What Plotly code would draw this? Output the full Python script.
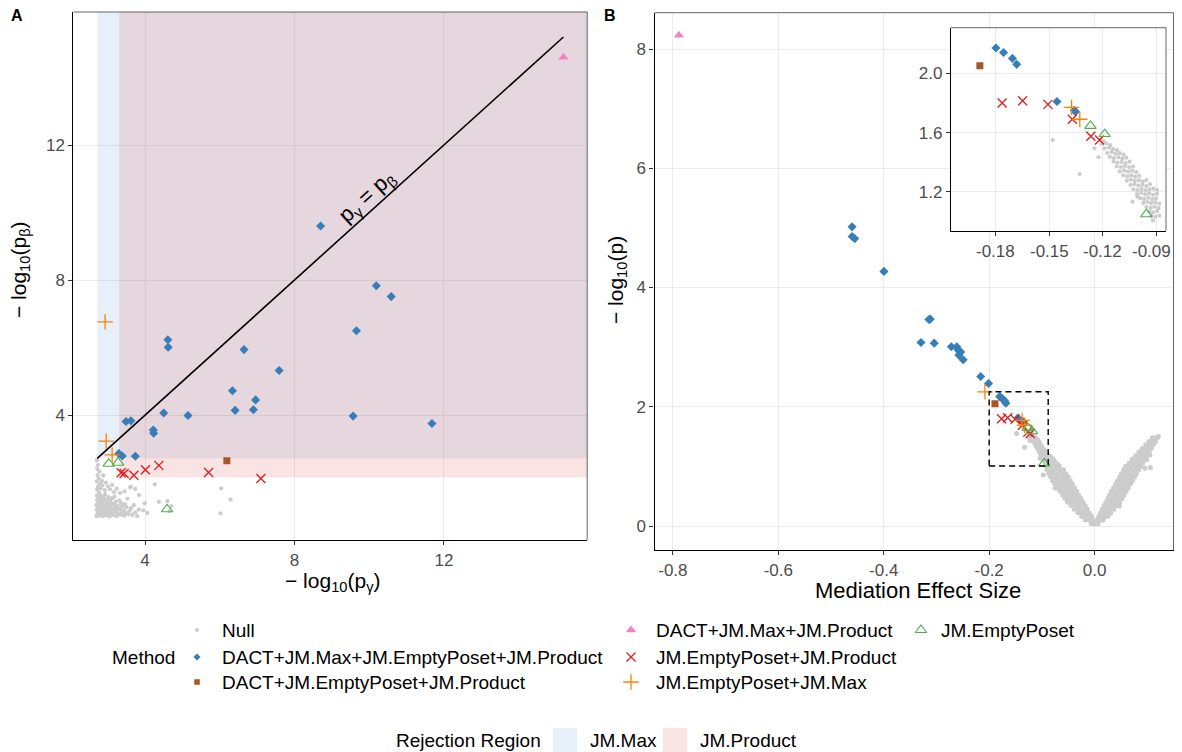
import plotly.graph_objects as go

# The page shows the figure inside an 8px body margin; the figure is sized so the
# page never overflows sideways, and positions below are given in window pixels.
VIEW_W, VIEW_H = 1182, 752
OFF = 8
W, H = VIEW_W - 2 * OFF, VIEW_H - OFF


def px(x):
    return (x - OFF) / W


def py(y):
    return 1 - (y - OFF) / H


# ------------------------------------------------------------------ data
# Panel A : -log10(p_gamma) vs -log10(p_beta)
a_null = [
    (2.71, 2.66), (2.74, 2.52), (2.72, 2.41), (2.78, 2.33), (2.73, 2.22), (2.76, 2.12),
    (2.71, 2.03), (2.79, 1.96), (2.74, 1.88), (2.72, 1.79), (2.77, 1.71), (2.81, 1.83),
    (2.84, 2.05), (2.88, 2.21), (2.86, 1.92), (2.92, 1.78), (2.95, 2.00), (3.01, 1.89),
    (3.06, 1.80), (3.12, 1.93), (3.17, 1.72), (3.24, 1.82), (3.33, 1.69), (3.45, 1.74),
    (3.60, 1.86), (3.74, 1.81), (3.84, 1.63), (3.99, 1.39), (3.95, 1.18), (4.06, 1.10),
    (4.26, 1.95), (4.37, 1.43), (4.60, 1.45), (4.70, 1.30), (4.66, 1.16), (6.04, 1.83),
    (6.29, 1.50), (6.02, 1.09),
    (2.70, 1.00), (2.72, 1.06), (2.75, 1.13), (2.71, 1.19), (2.74, 1.26), (2.70, 1.33),
    (2.76, 1.40), (2.72, 1.47), (2.75, 1.55), (2.71, 1.62),
    (2.79, 1.02), (2.81, 1.09), (2.78, 1.17), (2.83, 1.23), (2.80, 1.31), (2.84, 1.38),
    (2.79, 1.46), (2.83, 1.53), (2.80, 1.63),
    (2.87, 1.00), (2.89, 1.07), (2.86, 1.14), (2.91, 1.21), (2.88, 1.29), (2.92, 1.36),
    (2.87, 1.44), (2.91, 1.51), (2.88, 1.58), (2.93, 1.66),
    (2.96, 1.03), (2.98, 1.11), (2.95, 1.18), (3.00, 1.26), (2.97, 1.33), (3.01, 1.41),
    (2.96, 1.49), (3.02, 1.57),
    (3.05, 1.00), (3.07, 1.08), (3.04, 1.15), (3.09, 1.23), (3.06, 1.30), (3.11, 1.38),
    (3.07, 1.46), (3.12, 1.54),
    (3.15, 1.04), (3.17, 1.12), (3.14, 1.19), (3.19, 1.27), (3.16, 1.35), (3.21, 1.43),
    (3.18, 1.58),
    (3.24, 1.01), (3.27, 1.09), (3.23, 1.16), (3.29, 1.24), (3.26, 1.32), (3.31, 1.47),
    (3.34, 1.05), (3.37, 1.13), (3.33, 1.21), (3.39, 1.30), (3.36, 1.39),
    (3.44, 1.02), (3.47, 1.10), (3.43, 1.18), (3.50, 1.27), (3.46, 1.36),
    (3.55, 1.06), (3.58, 1.15), (3.53, 1.52), (3.62, 1.24), (3.66, 1.04), (3.70, 1.33),
    (3.74, 1.12), (3.79, 1.01), (3.83, 1.20), (3.62, 1.87),
]
a_all_x = [8.70, 10.19, 10.59, 9.66, 4.61, 4.62, 6.65, 7.59, 6.34, 6.96, 6.41, 6.90,
           4.50, 5.15, 9.57, 11.68, 3.49, 3.62, 4.22, 4.23, 3.30, 3.39, 3.74]
a_all_y = [9.60, 7.83, 7.51, 6.50, 6.23, 6.01, 5.94, 5.32, 4.72, 4.45, 4.14, 4.16,
           4.06, 3.99, 3.97, 3.75, 3.81, 3.83, 3.56, 3.46, 2.86, 2.79, 2.78]
a_dep_x = [6.19]
a_dep_y = [2.65]
a_dmp_x = [15.20]
a_dmp_y = [14.60]
a_epp_x = [3.36, 3.44, 3.70, 4.01, 4.37, 5.70, 7.10]
a_epp_y = [2.29, 2.27, 2.22, 2.38, 2.51, 2.30, 2.12]
a_epm_x = [2.93, 2.96, 3.12]
a_epm_y = [6.76, 3.23, 2.82]
a_ep_x = [3.03, 3.28, 4.59]
a_ep_y = [2.56, 2.59, 1.21]

# rejection thresholds (on the -log10 scale)
jm_max_thr = 2.72
jm_prod_thr_x = 3.31
jm_prod_thr_y = 2.15

# Panel B : mediation effect size vs -log10(p)
b_null_left = [
    (-0.0065, 0.040), (-0.0035, 0.047), (-0.0010, 0.033),
    (-0.0175, 0.100), (-0.0120, 0.106), (-0.0075, 0.096), (-0.0030, 0.102),
    (-0.0245, 0.160), (-0.0180, 0.166), (-0.0115, 0.155), (-0.0060, 0.162),
    (-0.0315, 0.221), (-0.0240, 0.214), (-0.0170, 0.225), (-0.0100, 0.218),
    (-0.0385, 0.279), (-0.0300, 0.285), (-0.0220, 0.274), (-0.0140, 0.281),
    (-0.0445, 0.342), (-0.0360, 0.335), (-0.0270, 0.346), (-0.0180, 0.338),
    (-0.0515, 0.398), (-0.0430, 0.405), (-0.0350, 0.394), (-0.0280, 0.402), (-0.0220, 0.397),
    (-0.0560, 0.462), (-0.0480, 0.455), (-0.0400, 0.466), (-0.0330, 0.458), (-0.0260, 0.463),
    (-0.0605, 0.518), (-0.0520, 0.525), (-0.0440, 0.514), (-0.0370, 0.522), (-0.0300, 0.517),
    (-0.0655, 0.582), (-0.0570, 0.575), (-0.0490, 0.586), (-0.0410, 0.578), (-0.0340, 0.583),
    (-0.0705, 0.638), (-0.0620, 0.645), (-0.0540, 0.634), (-0.0460, 0.642), (-0.0380, 0.637),
    (-0.0755, 0.702), (-0.0670, 0.695), (-0.0590, 0.706), (-0.0500, 0.698), (-0.0420, 0.703),
    (-0.0800, 0.758), (-0.0720, 0.765), (-0.0630, 0.754), (-0.0540, 0.762), (-0.0460, 0.757),
    (-0.0835, 0.822), (-0.0750, 0.815), (-0.0670, 0.826), (-0.0580, 0.818), (-0.0500, 0.823),
    (-0.0870, 0.878), (-0.0790, 0.885), (-0.0710, 0.874), (-0.0620, 0.882), (-0.0545, 0.877),
    (-0.0905, 0.942), (-0.0820, 0.935), (-0.0740, 0.946), (-0.0660, 0.938), (-0.0590, 0.943),
]
b_null_left_upper = [
    (-0.0918, 1.008), (-0.0895, 1.002), (-0.0872, 1.010), (-0.0850, 1.001), (-0.0827, 1.007),
    (-0.0805, 1.000), (-0.0782, 1.009), (-0.0760, 1.003), (-0.0737, 1.006), (-0.0715, 1.001),
    (-0.0692, 1.008), (-0.0670, 1.002),
    (-0.0928, 1.038), (-0.0905, 1.032), (-0.0882, 1.040), (-0.0860, 1.031), (-0.0837, 1.037),
    (-0.0815, 1.030), (-0.0792, 1.039), (-0.0770, 1.033), (-0.0748, 1.036), (-0.0725, 1.031),
    (-0.0703, 1.038),
    (-0.0940, 1.068), (-0.0918, 1.062), (-0.0895, 1.070), (-0.0872, 1.061), (-0.0850, 1.067),
    (-0.0827, 1.060), (-0.0805, 1.069), (-0.0782, 1.063), (-0.0760, 1.066), (-0.0738, 1.061),
    (-0.0955, 1.098), (-0.0932, 1.092), (-0.0910, 1.100), (-0.0887, 1.091), (-0.0865, 1.097),
    (-0.0842, 1.090), (-0.0820, 1.099), (-0.0797, 1.093), (-0.0775, 1.098),
    (-0.0972, 1.126), (-0.0950, 1.132), (-0.0928, 1.124), (-0.0905, 1.130), (-0.0883, 1.121),
    (-0.0860, 1.128), (-0.0838, 1.122), (-0.0815, 1.130), (-0.0792, 1.125),
    (-0.0990, 1.158), (-0.0968, 1.152), (-0.0945, 1.160), (-0.0922, 1.151), (-0.0900, 1.157),
    (-0.0878, 1.149), (-0.0856, 1.155), (-0.0834, 1.160),
    (-0.1008, 1.186), (-0.0985, 1.193), (-0.0962, 1.184), (-0.0940, 1.190), (-0.0918, 1.181),
    (-0.0896, 1.188), (-0.0874, 1.183),
    (-0.1028, 1.218), (-0.1005, 1.212), (-0.0982, 1.220), (-0.0960, 1.211), (-0.0938, 1.217),
    (-0.0916, 1.222), (-0.0895, 1.214),
    (-0.1045, 1.246), (-0.1022, 1.252), (-0.1000, 1.243), (-0.0978, 1.249), (-0.0956, 1.240),
    (-0.0935, 1.251),
    (-0.1065, 1.276), (-0.1042, 1.282), (-0.1020, 1.273), (-0.0998, 1.279), (-0.0975, 1.270),
    (-0.0955, 1.280),
    (-0.1085, 1.312), (-0.1062, 1.305), (-0.1040, 1.311), (-0.1018, 1.303), (-0.0995, 1.309),
    (-0.1105, 1.338), (-0.1080, 1.345), (-0.1058, 1.336), (-0.1035, 1.342), (-0.1012, 1.333),
    (-0.1122, 1.372), (-0.1098, 1.368), (-0.1075, 1.375), (-0.1052, 1.366), (-0.1030, 1.371),
    (-0.1140, 1.405), (-0.1118, 1.398), (-0.1095, 1.402), (-0.1072, 1.395), (-0.1050, 1.404),
    (-0.1160, 1.436), (-0.1138, 1.428), (-0.1112, 1.433), (-0.1090, 1.425), (-0.1068, 1.431),
    (-0.1175, 1.462), (-0.1150, 1.468), (-0.1128, 1.457), (-0.1105, 1.461), (-0.1083, 1.452),
    (-0.1190, 1.494), (-0.1165, 1.499), (-0.1142, 1.488), (-0.1120, 1.482),
    (-0.1205, 1.522), (-0.1180, 1.528), (-0.1158, 1.515),
    (-0.1215, 1.552), (-0.1195, 1.541),
]
b_null_right = [
    (0.0020, 0.040), (0.0045, 0.046), (0.0065, 0.035),
    (0.0050, 0.100), (0.0095, 0.106), (0.0135, 0.096), (0.0160, 0.102),
    (0.0080, 0.160), (0.0140, 0.166), (0.0200, 0.155), (0.0255, 0.162),
    (0.0110, 0.221), (0.0180, 0.214), (0.0250, 0.225), (0.0310, 0.218),
    (0.0145, 0.279), (0.0220, 0.285), (0.0300, 0.274), (0.0365, 0.281),
    (0.0180, 0.342), (0.0260, 0.335), (0.0340, 0.346), (0.0420, 0.338),
    (0.0215, 0.398), (0.0290, 0.405), (0.0370, 0.394), (0.0445, 0.402), (0.0475, 0.397),
    (0.0250, 0.462), (0.0330, 0.455), (0.0410, 0.466), (0.0480, 0.458), (0.0520, 0.463),
    (0.0285, 0.518), (0.0360, 0.525), (0.0440, 0.514), (0.0510, 0.522), (0.0560, 0.517),
    (0.0320, 0.582), (0.0400, 0.575), (0.0480, 0.586), (0.0550, 0.578), (0.0600, 0.583),
    (0.0360, 0.638), (0.0440, 0.645), (0.0520, 0.634), (0.0590, 0.642), (0.0640, 0.637),
    (0.0400, 0.702), (0.0480, 0.695), (0.0560, 0.706), (0.0630, 0.698), (0.0680, 0.703),
    (0.0435, 0.758), (0.0510, 0.765), (0.0590, 0.754), (0.0660, 0.762), (0.0720, 0.757),
    (0.0475, 0.822), (0.0550, 0.815), (0.0630, 0.826), (0.0700, 0.818), (0.0755, 0.823),
    (0.0510, 0.878), (0.0590, 0.885), (0.0670, 0.874), (0.0740, 0.882), (0.0795, 0.877),
    (0.0550, 0.942), (0.0630, 0.935), (0.0710, 0.946), (0.0780, 0.938), (0.0835, 0.943),
    (0.0590, 1.002), (0.0670, 0.995), (0.0750, 1.006), (0.0820, 0.998), (0.0875, 1.003),
    (0.0655, 1.058), (0.0730, 1.065), (0.0800, 1.054), (0.0860, 1.062), (0.0915, 1.057),
    (0.0715, 1.122), (0.0790, 1.115), (0.0860, 1.126), (0.0905, 1.118), (0.0955, 1.123),
    (0.0780, 1.178), (0.0850, 1.185), (0.0920, 1.174), (0.0995, 1.182),
    (0.0840, 1.242), (0.0910, 1.235), (0.0980, 1.246), (0.1035, 1.238),
    (0.0905, 1.298), (0.0970, 1.305), (0.1035, 1.294), (0.1075, 1.302),
    (0.0970, 1.362), (0.1035, 1.355), (0.1115, 1.366),
    (0.1030, 1.418), (0.1090, 1.425), (0.1155, 1.414),
    (0.1095, 1.482), (0.1145, 1.475), (0.1195, 1.486),
]
b_null_outliers = [
    (0.121, 1.50), (0.111, 1.45), (0.105, 1.19), (0.099, 1.11), (0.106, 0.98),
    (0.0956, 0.97), (0.047, 0.335),
    (-0.1481, 1.550), (-0.1330, 1.321), (-0.1224, 1.434), (-0.1247, 1.494),
    (-0.1033, 1.134), (-0.1005, 1.168), (-0.0973, 0.855), (-0.0750, 0.632),
]
b_all_x = [-0.460, -0.460, -0.455, -0.3997, -0.3144, -0.3117, -0.3293, -0.3042, -0.2717,
           -0.2615, -0.2588, -0.2540, -0.2575, -0.2493, -0.2161, -0.2012, -0.1800, -0.1757,
           -0.1707, -0.1683, -0.1457, -0.1360, -0.1353]
b_all_y = [5.017, 4.855, 4.820, 4.270, 3.464, 3.470, 3.078, 3.067, 3.006,
           3.006, 2.950, 2.920, 2.866, 2.788, 2.508, 2.391, 2.170, 2.140,
           2.100, 2.060, 1.810, 1.750, 1.740]
b_dep_x = [-0.189]
b_dep_y = [2.05]
b_dmp_x = [-0.7886]
b_dmp_y = [8.23]
b_epp_x = [-0.1765, -0.1650, -0.1508, -0.1371, -0.1267, -0.1218]
b_epp_y = [1.800, 1.815, 1.790, 1.690, 1.575, 1.550]
b_epm_x = [-0.208, -0.1375, -0.1329]
b_epm_y = [2.251, 1.770, 1.690]
b_ep_x = [-0.1269, -0.1189, -0.0955]
b_ep_y = [1.645, 1.590, 1.050]

# zoom window shown in the inset
zoom_x = [-0.200, -0.088]
zoom_y = [1.006, 2.251]

# inset tick labels
inset_xticks = [-0.18, -0.15, -0.12, -0.09]
inset_xlabels = ["-0.18", "-0.15", "-0.12", "-0.09"]

# ------------------------------------------------------------------ styles
M_NULL = "Null"
M_ALL = "DACT+JM.Max+JM.EmptyPoset+JM.Product"
M_DEP = "DACT+JM.EmptyPoset+JM.Product"
M_DMP = "DACT+JM.Max+JM.Product"
M_EPP = "JM.EmptyPoset+JM.Product"
M_EPM = "JM.EmptyPoset+JM.Max"
M_EP = "JM.EmptyPoset"

STYLE = {
    M_NULL: dict(symbol="circle", size=4.6, color="#CCCCCC"),
    M_ALL: dict(symbol="diamond", size=7, color="#377EB8"),
    M_DEP: dict(symbol="square", size=7, color="#A65628"),
    M_DMP: dict(symbol="triangle-up", size=9, color="#F781BF"),
    M_EPP: dict(symbol="x-thin", size=9, color="#E41A1C", lw=1.3),
    M_EPM: dict(symbol="cross-thin", size=11, color="#FF7F00", lw=1.3),
    M_EP: dict(symbol="triangle-up-open", size=10, color="#4DAF4A", lw=1.1),
}


def marker_for(name, size=None):
    s = STYLE[name]
    m = dict(symbol=s["symbol"], size=size or s["size"], color=s["color"])
    if "lw" in s:
        m["line"] = dict(width=s["lw"], color=s["color"])
    else:
        m["line"] = dict(width=0)
    return m


fig = go.Figure()


def add_pts(xs, ys, name, xa, ya, size=None):
    fig.add_trace(go.Scatter(x=list(xs), y=list(ys), mode="markers", name=name,
                             marker=marker_for(name, size), xaxis=xa, yaxis=ya,
                             showlegend=False, hoverinfo="skip"))


def in_zoom(xs, ys):
    keep = [(x, y) for x, y in zip(xs, ys)
            if zoom_x[0] <= x <= zoom_x[1] and zoom_y[0] <= y <= zoom_y[1]]
    if not keep:
        return [], []
    kx, ky = zip(*keep)
    return list(kx), list(ky)


# ---- panel A
ax_, ay_ = zip(*a_null)
add_pts(ax_, ay_, M_NULL, "x", "y", 4.3)
line_end = max(a_dmp_x + a_all_x)
fig.add_trace(go.Scatter(x=[jm_max_thr, line_end], y=[jm_max_thr, line_end], mode="lines",
                         line=dict(color="black", width=1.6), xaxis="x", yaxis="y",
                         showlegend=False, hoverinfo="skip"))
add_pts(a_all_x, a_all_y, M_ALL, "x", "y")
add_pts(a_dep_x, a_dep_y, M_DEP, "x", "y")
add_pts(a_dmp_x, a_dmp_y, M_DMP, "x", "y")
add_pts(a_epp_x, a_epp_y, M_EPP, "x", "y")
add_pts(a_epm_x, a_epm_y, M_EPM, "x", "y")
add_pts(a_ep_x, a_ep_y, M_EP, "x", "y")

# ---- panel B main and inset (inset shows only the points inside the zoom window)
b_null = b_null_left + b_null_left_upper + b_null_right + b_null_outliers
bx_, by_ = zip(*b_null)
b_series = [
    (b_all_x, b_all_y, M_ALL), (b_dep_x, b_dep_y, M_DEP), (b_dmp_x, b_dmp_y, M_DMP),
    (b_epp_x, b_epp_y, M_EPP), (b_epm_x, b_epm_y, M_EPM), (b_ep_x, b_ep_y, M_EP),
]
add_pts(bx_, by_, M_NULL, "x2", "y2", 5)
for sx, sy, nm in b_series:
    add_pts(sx, sy, nm, "x2", "y2")
zx_, zy_ = in_zoom(bx_, by_)
add_pts(zx_, zy_, M_NULL, "x4", "y4", 4.2)
for sx, sy, nm in b_series:
    zx_, zy_ = in_zoom(sx, sy)
    if zx_:
        add_pts(zx_, zy_, nm, "x4", "y4")

# ---- legend keys (drawn in a pixel-like helper axis)
leg_rows = [630, 657, 682]
leg_items = [
    (M_NULL, 197, leg_rows[0]), (M_ALL, 197, leg_rows[1]), (M_DEP, 197, leg_rows[2]),
    (M_DMP, 631, leg_rows[0]), (M_EPP, 631, leg_rows[1]), (M_EPM, 631, leg_rows[2]),
    (M_EP, 921, leg_rows[0]),
]
for name, lx, ly in leg_items:
    sz = 4 if name == M_NULL else (5.5 if name in (M_ALL, M_DEP) else None)
    add_pts([lx], [ly], name, "x5", "y5", sz)

# ------------------------------------------------------------------ layout
A = dict(L=73.4, R=587.2, T=12.0, B=540.0)
B = dict(L=654.6, R=1173.5, T=12.7, B=550.0)
I = dict(L=951.0, R=1166.0, T=27.7, B=230.5)
WH = dict(L=911.0, R=1172.5, T=13.8, B=263.0)
I_RANGE_X = [-0.2052, -0.0845]

TICKFONT = dict(size=17, color="#4D4D4D")
FONT = "Liberation Sans, Arial, Helvetica, sans-serif"


def axis(dom_px, rng, tickvals, ticktext=None, anchor=None, horizontal=True):
    if horizontal:
        dom = [px(dom_px[0]), px(dom_px[1])]
    else:
        dom = [py(dom_px[1]), py(dom_px[0])]
    d = dict(domain=dom, range=rng, tickvals=tickvals, showgrid=True, gridcolor="#EBEBEB",
             gridwidth=1.1, zeroline=False, showline=True, linecolor="black", linewidth=1.3,
             ticks="outside", ticklen=4, tickwidth=1, tickcolor="#333333", tickfont=TICKFONT,
             anchor=anchor, fixedrange=True)
    if ticktext is not None:
        d["ticktext"] = ticktext
    return d


hidden = dict(visible=False, showgrid=False, zeroline=False, fixedrange=True)
LEG_DOM = 0.185

# inset x axis: the last label sits at the page edge, so all of its labels are
# written as annotations under the ticks instead of axis tick labels
xaxis4 = axis((I["L"], I["R"]), I_RANGE_X, inset_xticks, anchor="y4")
xaxis4["showticklabels"] = False

layout = dict(
    width=W, height=H, margin=dict(l=0, r=0, t=0, b=0),
    paper_bgcolor="white", plot_bgcolor="white", showlegend=False,
    font=dict(family=FONT, color="black"),
    xaxis=axis((A["L"], A["R"]), [2.082, 15.836], [4, 8, 12], anchor="y"),
    yaxis=axis((A["T"], A["B"]), [0.30, 15.94], [4, 8, 12], anchor="x", horizontal=False),
    xaxis2=axis((B["L"], B["R"]), [-0.8347, 0.1497], [-0.8, -0.6, -0.4, -0.2, 0.0],
                ["-0.8", "-0.6", "-0.4", "-0.2", "0.0"], anchor="y2"),
    yaxis2=axis((B["T"], B["B"]), [-0.4025, 8.609], [0, 2, 4, 6, 8], anchor="x2",
                horizontal=False),
    # white cover behind the inset (covers main-panel grid under inset labels)
    xaxis3=dict(hidden, domain=[px(WH["L"]), px(WH["R"])], range=[0, 1], anchor="y3"),
    yaxis3=dict(hidden, domain=[py(WH["B"]), py(WH["T"])], range=[0, 1], anchor="x3"),
    xaxis4=xaxis4,
    yaxis4=axis((I["T"], I["B"]), [0.94, 2.307], [1.2, 1.6, 2.0], ["1.2", "1.6", "2.0"],
                anchor="x4", horizontal=False),
    xaxis5=dict(hidden, domain=[0, 1], range=[OFF, OFF + W], anchor="y5"),
    yaxis5=dict(hidden, domain=[0, LEG_DOM], range=[VIEW_H, VIEW_H - LEG_DOM * H],
                anchor="x5"),
)
fig.update_layout(**layout)

shapes = []
# rejection regions in panel A
REG_MAX = "rgba(70,130,200,0.13)"
REG_PROD = "rgba(230,115,115,0.20)"
shapes.append(dict(type="rect", xref="x", yref="y", x0=jm_max_thr, x1=100, y0=jm_max_thr,
                   y1=100, fillcolor=REG_MAX, line=dict(width=0), layer="between"))
shapes.append(dict(type="rect", xref="x", yref="y", x0=jm_prod_thr_x, x1=100,
                   y0=jm_prod_thr_y, y1=100, fillcolor=REG_PROD, line=dict(width=0),
                   layer="between"))
# zoom window in panel B
shapes.append(dict(type="rect", xref="x2", yref="y2", x0=zoom_x[0], x1=zoom_x[1],
                   y0=zoom_y[0], y1=zoom_y[1], fillcolor="rgba(0,0,0,0)",
                   line=dict(color="black", width=1.4, dash="6px,4px"), layer="above"))
# top/right panel borders
for P in (A, B, I):
    shapes.append(dict(type="line", xref="paper", yref="paper", x0=px(P["L"]), x1=px(P["R"]),
                       y0=py(P["T"]), y1=py(P["T"]), line=dict(color="#555555", width=0.9),
                       layer="above"))
    shapes.append(dict(type="line", xref="paper", yref="paper", x0=px(P["R"]), x1=px(P["R"]),
                       y0=py(P["T"]), y1=py(P["B"]), line=dict(color="#555555", width=0.9),
                       layer="above"))
# rejection region legend keys
shapes.append(dict(type="rect", xref="paper", yref="paper", x0=px(553), x1=px(577),
                   y0=py(752), y1=py(728), fillcolor=REG_MAX, line=dict(width=0)))
shapes.append(dict(type="rect", xref="paper", yref="paper", x0=px(663), x1=px(687),
                   y0=py(752), y1=py(728), fillcolor=REG_PROD, line=dict(width=0)))
fig.update_layout(shapes=shapes)

ann = []


def text(x, y, s, size, xanchor="left", angle=0, color="black", yanchor="middle"):
    ann.append(dict(x=px(x), y=py(y), xref="paper", yref="paper", text=s, showarrow=False,
                    xanchor=xanchor, yanchor=yanchor, textangle=angle,
                    font=dict(size=size, color=color, family=FONT)))


text(9, 16, "<b>A</b>", 16)
text(602, 16, "<b>B</b>", 16)
text(333, 582, "− log<sub>10</sub>(p<sub>γ</sub>)", 21, xanchor="center")
text(20, 270, "− log<sub>10</sub>(p<sub>β</sub>)", 21, xanchor="center", angle=-90)
text(918, 590, "Mediation Effect Size", 22, xanchor="center")
text(617, 280, "− log<sub>10</sub>(p)", 21, xanchor="center", angle=-90)

# inset x tick labels (placed under the inset's ticks, last one kept inside the page)
for tv, tl in zip(inset_xticks, inset_xlabels):
    tick_px = I["L"] + (tv - I_RANGE_X[0]) / (I_RANGE_X[1] - I_RANGE_X[0]) * (I["R"] - I["L"])
    if tick_px + 20 > OFF + W - 1:
        text(OFF + W - 1, 251, tl, 17, xanchor="right", color="#4D4D4D")
    else:
        text(tick_px, 251, tl, 17, xanchor="center", color="#4D4D4D")

LEG = 19
text(110, leg_rows[1], "Method", LEG)
for name, lx, ly in leg_items:
    text(lx + 23 if lx != 921 else lx + 18, ly, name, LEG)
text(543, 740, "Rejection Region", LEG, xanchor="right")
text(588, 740, "JM.Max", LEG)
text(698, 740, "JM.Product", LEG)

# label along the identity line
ann.append(dict(x=9.95, y=10.47, xref="x", yref="y", text="p<sub>γ</sub> = p<sub>β</sub>",
                showarrow=False, textangle=-42.1, font=dict(size=22, color="black", family=FONT)))
fig.update_layout(annotations=ann)

fig.write_html("out.html")
